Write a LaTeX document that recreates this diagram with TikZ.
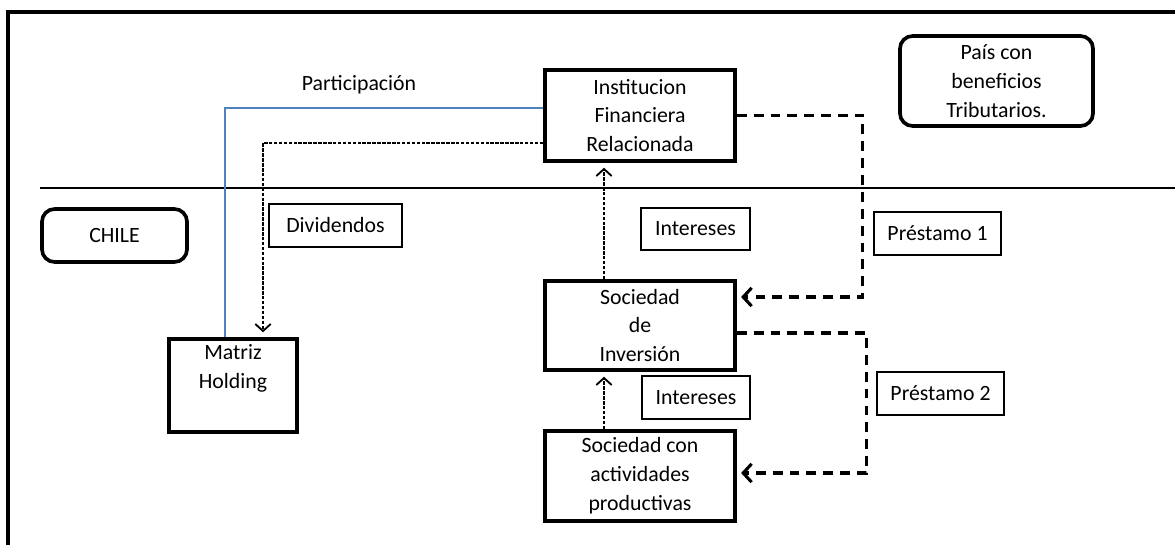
\documentclass[tikz,border=0pt]{standalone}
\usepackage{fontspec}
\setmainfont{Carlito}
\usetikzlibrary{arrows.meta, positioning, calc}
\definecolor{linkblue}{RGB}{79, 129, 189}

\tikzset{
  entity/.style={draw, line width=2.6pt, align=center, inner sep=0pt, minimum width=4.75cm, minimum height=2.25cm},
  region/.style={draw, line width=2.6pt, rounded corners=9pt, align=center, inner sep=0pt},
  tag/.style={draw, line width=1.2pt, inner sep=0pt, minimum height=1.075cm},
  flow/.style={line width=1.1pt, dash pattern=on 2.5pt off 1pt, -{Straight Barb[length=5pt, width=11pt, line width=1.3pt]}, shorten >=3.5pt},
  loan/.style={line width=2.2pt, dash pattern=on 7pt off 5pt, -{Straight Barb[length=6pt, width=13pt]}, shorten >=3pt},
}

\begin{document}
\begin{tikzpicture}[x=0.025cm, y=-0.025cm, font=\fontsize{15.5}{20.5}\selectfont]
  \useasboundingbox (0,0) rectangle (1175,545);

  % Frame and border line
  \draw[line width=2.6pt] (8,545) -- (8,12) -- (1175,12);
  \draw[line width=1pt] (40,188) -- (1175,188);

  % Regions
  \node[region, minimum width=3.625cm, minimum height=1.325cm] (chile) at (114.5,235.5) {CHILE};
  \node[region, minimum width=4.825cm, minimum height=2.25cm] (pais) at (996.5,81) {País con\\beneficios\\Tributarios.};

  % Companies
  \node[entity, minimum height=2.275cm] (ifr) at (640,115.5) {Institucion\\Financiera\\Relacionada};
  \node[entity, minimum height=2.225cm] (sdi) at (640,325.5) {Sociedad\\de\\Inversión};
  \node[entity] (scap) at (640,476) {Sociedad con\\actividades\\productivas};
  \node[entity, minimum width=3.2cm, minimum height=2.325cm] (matriz) at (233,385.5) {Matriz\\Holding\\\strut};

  % Labels
  \node (part) at (359,85) {Participación};
  \node[tag, minimum width=3.325cm] (divid) at (335.5,225.5) {Dividendos};
  \node[tag, minimum width=2.725cm, minimum height=1.05cm] (int1) at (695.5,229) {Intereses};
  \node[tag, minimum width=2.7cm] (int2) at (696,397.5) {Intereses};
  \node[tag, minimum width=3.175cm] (prest1) at (937.5,233.5) {Préstamo 1};
  \node[tag, minimum width=3.175cm] (prest2) at (940.5,393.5) {Préstamo 2};

  % Participation and dividends
  \draw[linkblue, line width=1.2pt] ([yshift=0.1875cm]ifr.west) -| ([xshift=-0.2cm]matriz.north);
  \draw[flow] ([yshift=-0.6875cm]ifr.west) -| ([xshift=0.75cm]matriz.north);

  % Interest flows
  \draw[flow] ([xshift=-0.9cm]sdi.north) -- ([xshift=-0.9cm]ifr.south);
  \draw[flow] ([xshift=-0.9cm]scap.north) -- ([xshift=-0.9cm]sdi.south);

  % Loans
  \draw[loan] (ifr.east) -- ++(126,0) |- ([yshift=0.7125cm]sdi.east);
  \draw[loan] ([yshift=-0.1875cm]sdi.east) -- ++(130,0) |- ([yshift=0.075cm]scap.east);
\end{tikzpicture}
\end{document}
